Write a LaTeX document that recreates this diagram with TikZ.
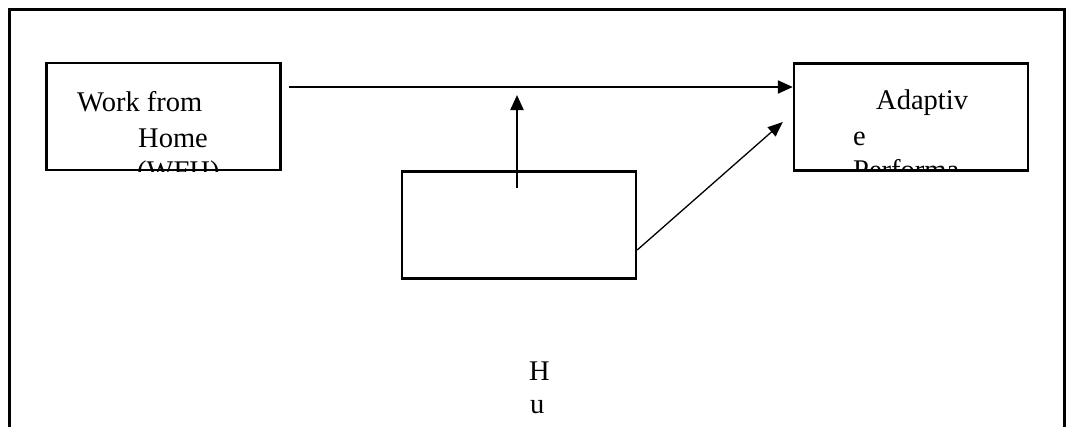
\documentclass[tikz,border=0pt]{standalone}
\usepackage{fontspec}
\setmainfont{Liberation Serif}
\usetikzlibrary{arrows.meta,positioning}
\tikzset{box/.style={draw,line width=2.4pt,minimum width=234pt,minimum height=107pt,inner sep=0pt}, lbl/.style={font=\fontsize{28.5pt}{36.5pt}\selectfont,inner sep=0pt,anchor=base west}, arr/.style={-{Triangle[length=15pt,width=13pt]},line width=2.2pt}, thinarr/.style={-{Triangle[length=15pt,width=12pt]},line width=1.3pt}}

\begin{document}
\begin{tikzpicture}[x=1pt,y=-1pt]
\useasboundingbox (0,0) rectangle (1066,426);
\draw[line width=3pt] (9,440)--(9,9)--(1064,9)--(1064,440);
\node[box] (wfh) at (163.5,116.5){};
\node[box] (ap) at (911,117){};
\node[box] (mod) at (519,225){};
\begin{scope}
\clip (wfh.south west) rectangle ([yshift=-1pt]wfh.north east);
\node[lbl] (w1) at (77,111){Work from};
\node[lbl] (w2) at (138,147){Home};
\node[lbl] (w3) at (137,180){(WFH)};
\end{scope}
\begin{scope}
\clip (ap.south west) rectangle ([yshift=-1pt]ap.north east);
\node[lbl] (a1) at (876,109){Adaptiv};
\node[lbl] (a2) at (853,145){e};
\node[lbl] (a3) at (853,179){Performa};
\end{scope}
\node[lbl] (h1) at (529,380){H};
\node[lbl] (h2) at (530,413){u};
\coordinate (hs) at (289,87);
\coordinate (vs) at (517,188);
\coordinate (vt) at (517,95);
\draw[arr] (hs) -- (hs -| ap.west);
\draw[arr] (vs) -- (vt);
\draw[thinarr] ([yshift=-25pt]mod.east) -- ([xshift=-10pt,yshift=-5pt]ap.west);
\end{tikzpicture}
\end{document}
